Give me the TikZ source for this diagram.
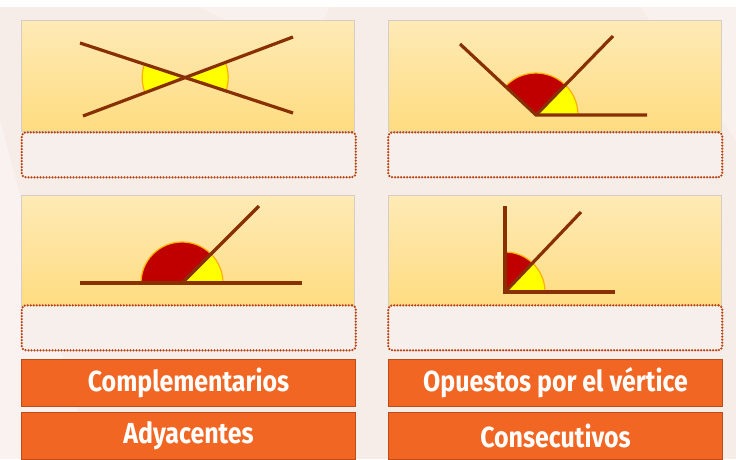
\documentclass[tikz,border=0pt]{standalone}
\usepackage{fontspec}
\newfontfamily\btnfont{Fira Sans}
\usetikzlibrary{calc}
\definecolor{bgpink}{RGB}{246,236,232}
\definecolor{paneltop}{RGB}{254,234,182}
\definecolor{panelbot}{RGB}{254,220,128}
\definecolor{panelline}{RGB}{214,206,198}
\definecolor{dotbrown}{RGB}{184,70,20}
\definecolor{dotfill}{RGB}{247,239,236}
\definecolor{raybrown}{RGB}{136,48,4}
\definecolor{wedgered}{RGB}{192,0,0}
\definecolor{wedgeyellow}{RGB}{255,255,0}
\definecolor{wedgeedge}{RGB}{255,176,0}
\definecolor{btnorange}{RGB}{242,102,36}
\definecolor{btnedge}{RGB}{190,76,24}
\tikzset{
  panel/.style={draw=panelline, line width=0.8pt, top color=paneltop, bottom color=panelbot,
    minimum width=333pt, minimum height=111pt, inner sep=0pt, anchor=north west},
  answerbox/.style={draw=dotbrown, dash pattern=on 0pt off 3pt, line cap=round, line width=2.5pt,
    fill=dotfill, rounded corners=4pt,
    minimum width=334pt, minimum height=45pt, inner sep=0pt, anchor=north west},
  ray/.style={draw=raybrown, line width=3.2pt},
  ywedge/.style={fill=wedgeyellow, draw=wedgeedge, line width=1.2pt},
  rwedge/.style={fill=wedgered, draw=wedgeedge, line width=1.2pt},
  btn/.style={fill=btnorange, draw=btnedge, line width=1pt, minimum width=334pt, minimum height=47pt,
    inner sep=0pt, anchor=north west, text=white, font=\btnfont\bfseries\fontsize{29}{30}\selectfont},
}
\begin{document}
\begin{tikzpicture}[x=1pt, y=-1pt]
\useasboundingbox (0,0) rectangle (736,459);
\fill[bgpink] (0,0) rectangle (736,459);
\fill[white] (0,0) rectangle (736,7);
% faint background shapes
\fill[white, opacity=0.35] (0,120) -- (90,459) -- (0,459) -- cycle;
\fill[white, opacity=0.3] (200,7) -- (330,7) -- (300,60) -- cycle;
\fill[white, opacity=0.3] (640,7) -- (736,7) -- (736,140) -- cycle;

% panels
\node[panel] (p1) at (21,20) {};
\node[panel] (p2) at (388,20) {};
\node[panel] (p3) at (21,195) {};
\node[panel] (p4) at (388,195) {};
\node[answerbox] (a1) at (20.5,131) {};
\node[answerbox] (a2) at (387,131) {};
\node[answerbox] (a3) at (20.5,304) {};
\node[answerbox] (a4) at (387,304) {};

% panel 1: opposite angles
\coordinate (A1) at (80,43);
\coordinate (A2) at (293,113);
\coordinate (B1) at (83,116);
\coordinate (B2) at (293,37);
\coordinate (X) at (intersection of A1--A2 and B1--B2);
\draw[ywedge] (X) -- ++(-161.8:43) arc[start angle=-161.8, end angle=-200.6, radius=43] -- cycle;
\draw[ywedge] (X) -- ++(18.2:43) arc[start angle=18.2, end angle=-20.6, radius=43] -- cycle;
\draw[ray] (A1) -- (A2);
\draw[ray] (B1) -- (B2);

% panel 2
\coordinate (V2) at (536,115);
\coordinate (H2) at (647,115);
\coordinate (D2) at (613,36);
\coordinate (L2) at (460,44);
\draw[ywedge] (V2) -- ++(0:42) arc[start angle=0, end angle=-45.7, radius=42] -- cycle;
\draw[rwedge] (V2) -- ++(-45.7:42) arc[start angle=-45.7, end angle=-136.9, radius=42] -- cycle;
\draw[ray, line join=miter] (L2) -- (V2) -- (H2);
\draw[ray] (V2) -- (D2);

% panel 3
\coordinate (V3) at (182,283);
\coordinate (H3a) at (80,283);
\coordinate (H3b) at (302,283);
\coordinate (D3) at (259,206);
\draw[ywedge] (V3) -- ++(0:41) arc[start angle=0, end angle=-45, radius=41] -- cycle;
\draw[rwedge] (V3) -- ++(-45:41) arc[start angle=-45, end angle=-180, radius=41] -- cycle;
\draw[ray] (H3a) -- (H3b);
\draw[ray] (V3) -- (D3);

% panel 4
\coordinate (V4) at (505,292);
\coordinate (U4) at (505,206);
\coordinate (H4) at (615,292);
\coordinate (D4) at (581,212);
\draw[ywedge] (V4) -- ++(0:40) arc[start angle=0, end angle=-46.5, radius=40] -- cycle;
\draw[rwedge] (V4) -- ++(-46.5:40) arc[start angle=-46.5, end angle=-90, radius=40] -- cycle;
\draw[ray, line join=miter] (U4) -- (V4) -- (H4);
\draw[ray] (V4) -- (D4);

% buttons
\node[btn] (b1) at (21,359) {\scalebox{0.86}[1]{Complementarios}};
\node[btn] (b2) at (388,359) {\scalebox{0.86}[1]{Opuestos por el vértice}};
\node[btn] (b3) at (21,412) {\scalebox{0.86}[1]{Adyacentes}};
\node[btn] (b4) at (388,412) {\scalebox{0.86}[1]{Consecutivos}};
\end{tikzpicture}
\end{document}
